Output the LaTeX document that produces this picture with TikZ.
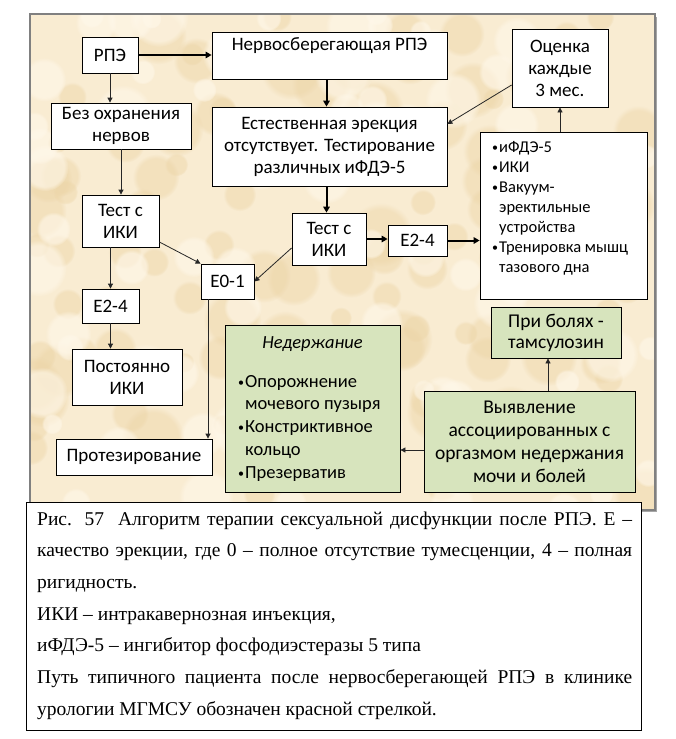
\documentclass[tikz,border=0pt]{standalone}
\usepackage{fontspec}
\setmainfont{Liberation Serif}
\newfontfamily\calfont{Carlito}
\usetikzlibrary{arrows.meta,calc,fadings}
\definecolor{parch}{RGB}{249,236,210}
\definecolor{parchdark}{RGB}{236,212,165}
\definecolor{parchlight}{RGB}{255,248,234}
\definecolor{olivelt}{RGB}{215,228,189}
\definecolor{panelgray}{RGB}{128,128,128}
\newcommand\lbul{\makebox[7pt][l]{\raisebox{1pt}{\fontsize{12}{12}\selectfont\textbullet}}}
\newcommand\lind{\hspace*{7pt}}
\tikzset{
  box/.style={draw=black, line width=0.8pt, fill=white, inner sep=0pt, align=center,
    font=\calfont\fontsize{19}{22}\selectfont},
  gbox/.style={box, fill=olivelt},
  txt/.style={inner sep=0pt, align=left},
  thinarr/.style={draw=black!85, line width=0.8pt, -{Triangle[length=5pt,width=5pt]}},
  thickarr/.style={draw=black, line width=2pt, -{Triangle[length=6pt,width=6.5pt]}},
  capline/.style={inner sep=0pt, anchor=base west, font=\fontsize{19.5}{22}\selectfont},
}
\begin{document}
\begin{tikzpicture}[x=1pt,y=-1pt]
\useasboundingbox (0,0) rectangle (676,739);
% panel
\fill[panelgray!70] (33,17) rectangle (657,512);
\fill[parch] (30,14) rectangle (655,510);
\begin{scope}
  \clip (30,14) rectangle (655,510);
  \pgfmathsetseed{11}
  \foreach \i in {1,...,110}{
    \pgfmathsetmacro\px{30+625*rnd}
    \pgfmathsetmacro\py{14+496*rnd}
    \pgfmathsetmacro\pr{10+22*rnd}
    \fill[parchdark, opacity=0.45, path fading=circle with fuzzy edge 20 percent] (\px,\py) circle[radius=\pr];
  }
  \foreach \i in {1,...,80}{
    \pgfmathsetmacro\px{30+625*rnd}
    \pgfmathsetmacro\py{14+496*rnd}
    \pgfmathsetmacro\pr{10+20*rnd}
    \fill[parchlight, opacity=0.6, path fading=circle with fuzzy edge 20 percent] (\px,\py) circle[radius=\pr];
  }
\end{scope}
\draw[panelgray, line width=1.2pt] (30,14) rectangle (655,510);

% nodes
\node[box, minimum width=56pt, minimum height=36pt] (rpe) at (110,55) {РПЭ};
\node[box, minimum width=235pt, minimum height=47pt, text depth=23pt] (nerv) at (329.5,55.5) {Нервосберегающая РПЭ};
\node[box, minimum width=140pt, minimum height=46pt] (bez) at (121,126) {Без охранения\\нервов};
\node[box, minimum width=235pt, minimum height=79pt] (est) at (329.5,146.5) {Естественная эрекция\\отсутствует. Тестирование\\различных иФДЭ-5};
\node[box, minimum width=96pt, minimum height=78pt] (ocenka) at (560,68) {Оценка\\каждые\\3 мес.};
\node[box, minimum width=77pt, minimum height=52pt] (testL) at (120.5,221) {Тест с\\ИКИ};
\node[box, minimum width=74pt, minimum height=52pt] (testM) at (329,239) {Тест с\\ИКИ};
\node[box, minimum width=59pt, minimum height=31pt] (e24M) at (417.5,240.5) {E2-4};
\node[box, minimum width=167pt, minimum height=167pt] (list) at (563.5,215.5) {};
\node[txt, anchor=north west, font=\calfont\fontsize{16.5}{20}\selectfont] (listt) at (492,141)
  {\lbul иФДЭ-5\\\lbul ИКИ\\\lbul Вакуум-\\\lind эректильные\\\lind устройства\\\lbul Тренировка мышц\\\lind тазового дна};
\node[box, minimum width=53pt, minimum height=35pt] (e01) at (227.5,281.5) {E0-1};
\node[box, minimum width=57pt, minimum height=34pt] (e24L) at (110.5,306) {E2-4};
\node[box, minimum width=110pt, minimum height=56pt] (post) at (127,377) {Постоянно\\ИКИ};
\node[box, minimum width=156pt, minimum height=36pt] (prot) at (134,457) {Протезирование};
\node[gbox, minimum width=175pt, minimum height=167pt] (ned) at (312.5,408.5) {};
\node[txt, font=\calfont\itshape\fontsize{18.5}{22}\selectfont] (nedt) at (312.5,344) {Недержание};
\node[txt, anchor=north west, font=\calfont\fontsize{18.5}{22.7}\selectfont] (nedl) at (238,375)
  {\lbul Опорожнение\\\lind мочевого пузыря\\\lbul Констриктивное\\\lind кольцо\\\lbul Презерватив};
\node[gbox, minimum width=130pt, minimum height=51pt, font=\calfont\fontsize{19.5}{21}\selectfont] (bol) at (556,332.5) {При болях -\\тамсулозин};
\node[gbox, minimum width=211pt, minimum height=101pt, font=\calfont\fontsize{19.5}{23}\selectfont] (vyy) at (529.5,441.5) {Выявление\\ассоциированных с\\оргазмом недержания\\мочи и болей};

% connectors
\draw[thickarr] (rpe.east) -- (rpe.east -| nerv.west);
\draw[thinarr] (rpe.south) -- (rpe.south |- bez.north);
\draw[thickarr] ([xshift=-3pt]nerv.south) -- ([xshift=-3pt]est.north);
\draw[thinarr] (bez.south) -- (bez.south |- testL.north);
\draw[thickarr] ([xshift=-3pt]est.south) -- ([xshift=-3pt]est.south |- testM.north);
\draw[thickarr] (testM.east) -- (testM.east -| e24M.west);
\draw[thickarr] (e24M.east) -- (e24M.east -| list.west);
\draw[thinarr] (ocenka.south |- list.north) -- (ocenka.south);
\draw[thinarr] ([yshift=-17pt]ocenka.west) -- ([yshift=22.5pt]est.east);
\draw[thinarr] ([yshift=-21pt]testL.east) -- (e01.north west);
\draw[thinarr] ([yshift=-9pt]testM.west) -- (e01.east);
\draw[thinarr] (e24L.north |- testL.south) -- (e24L.north);
\draw[thinarr] (e24L.south) -- (e24L.south |- post.north);
\draw[thinarr] ([xshift=-19.5pt]e01.south) -- ([xshift=-19.5pt]e01.south |- prot.north);
\draw[thinarr] ([yshift=-8.5pt]vyy.west) -- ([yshift=-8.5pt]vyy.west -| ned.east);
\draw[thinarr] ([xshift=-8pt]bol.south |- vyy.north) -- ([xshift=-8pt]bol.south);

% caption
\node[draw=black, line width=0.8pt, fill=white, minimum width=615pt, minimum height=228pt, inner sep=0pt] (capbox) at (333.5,616) {};
\node[capline] (c1) at (37,525) {\makebox[595pt][s]{Рис. 57\ \ Алгоритм терапии сексуальной дисфункции после РПЭ. Е –}};
\node[capline] (c2) at (37,556.7) {\makebox[595pt][s]{качество эрекции, где 0 – полное отсутствие тумесценции, 4 – полная}};
\node[capline] (c3) at (37,588.4) {ригидность.};
\node[capline] (c4) at (37,620) {ИКИ – интракавернозная инъекция,};
\node[capline] (c5) at (37,651.8) {иФДЭ-5 – ингибитор фосфодиэстеразы 5 типа};
\node[capline] (c6) at (37,683.5) {\makebox[595pt][s]{Путь типичного пациента после нервосберегающей РПЭ в клинике}};
\node[capline] (c7) at (37,715) {урологии МГМСУ обозначен красной стрелкой.};
\end{tikzpicture}
\end{document}
